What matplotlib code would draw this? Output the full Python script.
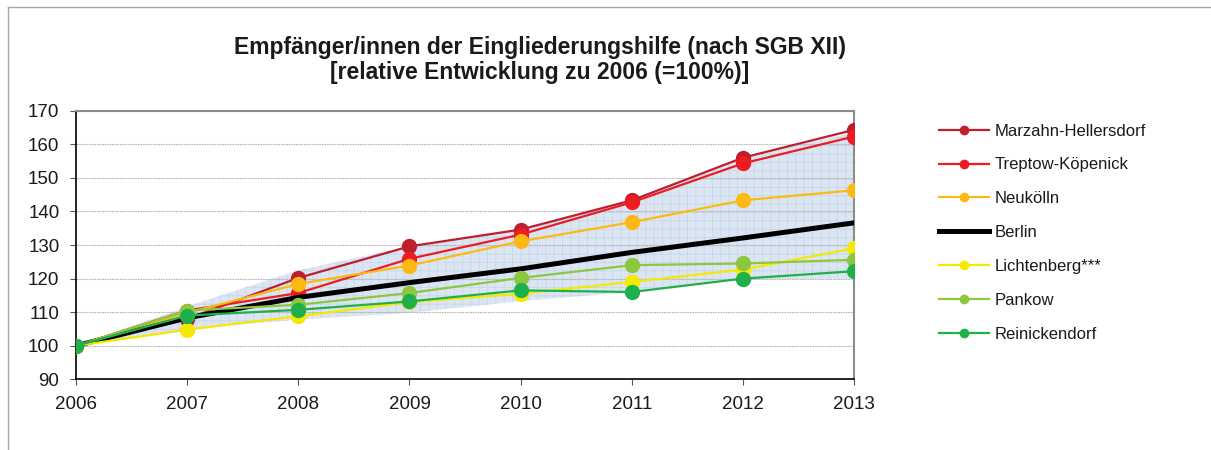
import matplotlib
matplotlib.use("Agg")
import matplotlib.pyplot as plt
from matplotlib.lines import Line2D

plt.rcParams['font.family'] = ['Liberation Sans', 'DejaVu Sans']
plt.rcParams['hatch.linewidth'] = 0.5

years = [2006, 2007, 2008, 2009, 2010, 2011, 2012, 2013]

# relative development, 2006 = 100
marzahn = [100, 108.0, 120.2, 129.6, 134.6, 143.3, 156.0, 164.3]
treptow = [100, 110.5, 115.7, 125.9, 133.1, 142.7, 154.3, 162.3]
neukoelln = [100, 109.8, 118.4, 123.9, 131.1, 136.8, 143.3, 146.3]
berlin = [100, 108.3, 114.4, 118.8, 122.9, 127.8, 132.1, 136.6]
lichtenberg = [100, 104.8, 108.8, 113.0, 115.5, 119.0, 122.7, 129.0]
pankow = [100, 110.5, 112.2, 115.7, 120.2, 124.0, 124.5, 125.6]
reinickendorf = [100, 109.0, 110.7, 113.2, 116.5, 116.0, 120.0, 122.2]

# range band of all districts
band_low = [100, 105.0, 107.8, 109.8, 113.3, 116.0, 119.8, 120.0]
band_high = [100, 111.7, 122.5, 129.6, 134.6, 143.3, 156.0, 163.5]

series = [
    ("Marzahn-Hellersdorf", marzahn, "#BE1E2D"),
    ("Treptow-Köpenick", treptow, "#ED1C24"),
    ("Neukölln", neukoelln, "#FDB913"),
    ("Berlin", berlin, "black"),
    ("Lichtenberg***", lichtenberg, "#F5E900"),
    ("Pankow", pankow, "#8DC63F"),
    ("Reinickendorf", reinickendorf, "#1FAF4B"),
]

fig = plt.figure(figsize=(12.11, 4.5), dpi=100)
ax = fig.add_axes([0.0628, 0.157, 0.6424, 0.597])

ax.fill_between(years, band_low, band_high, facecolor="#DCE6F2",
                edgecolor="#C3D4E9", hatch="++", linewidth=0, zorder=0.3)

handles = []
for name, vals, col in series:
    if name == "Berlin":
        ax.plot(years, vals, color=col, lw=3.6, zorder=3)
        handles.append(Line2D([], [], color=col, lw=3.6, label=name))
    else:
        ax.plot(years, vals, color=col, lw=1.6, marker="o", markersize=11,
                markeredgewidth=0, zorder=3)
        handles.append(Line2D([], [], color=col, lw=1.6, marker="o",
                              markersize=7, markeredgewidth=0, label=name))

ax.set_xlim(2006, 2013)
ax.set_ylim(90, 170)
ax.set_xticks(years)
ax.set_yticks(range(90, 171, 10))
ax.tick_params(labelsize=13.5, length=4, width=0.8, color="#555555",
               direction="out", labelcolor="#1A1A1A")
ax.tick_params(axis="y", pad=8)
ax.tick_params(axis="x", pad=8)
ax.grid(axis="y", color="#B5B5B5", lw=0.8, linestyle=(0, (1.5, 0.8)))
ax.set_axisbelow(True)

ax.spines["left"].set_color("black")
ax.spines["bottom"].set_color("black")
ax.spines["left"].set_linewidth(1.2)
ax.spines["bottom"].set_linewidth(1.2)
ax.spines["top"].set_color("#8C8C8C")
ax.spines["right"].set_color("#8C8C8C")
ax.spines["top"].set_linewidth(1.5)
ax.spines["right"].set_linewidth(1.5)

fig.text(0.446, 0.895, "Empfänger/innen der Eingliederungshilfe (nach SGB XII)",
         ha="center", va="center", fontsize=16.5, fontweight="bold", color="#1A1A1A")
fig.text(0.446, 0.838, "[relative Entwicklung zu 2006 (=100%)]",
         ha="center", va="center", fontsize=16.5, fontweight="bold", color="#1A1A1A")

fig.legend(handles=handles, loc="upper left", bbox_to_anchor=(0.770, 0.740),
           frameon=False, fontsize=12, handlelength=3.0, handletextpad=0.3,
           labelspacing=1.13, borderaxespad=0, labelcolor="#1A1A1A")

# outer frame of the chart (top and left edge only)
fig.add_artist(Line2D([8 / 1211, 1], [1 - 7 / 450, 1 - 7 / 450],
                      transform=fig.transFigure, color="#A6A6A6", lw=1))
fig.add_artist(Line2D([8 / 1211, 8 / 1211], [0, 1 - 7 / 450],
                      transform=fig.transFigure, color="#A6A6A6", lw=1))

fig.savefig("out.png", dpi=100)
